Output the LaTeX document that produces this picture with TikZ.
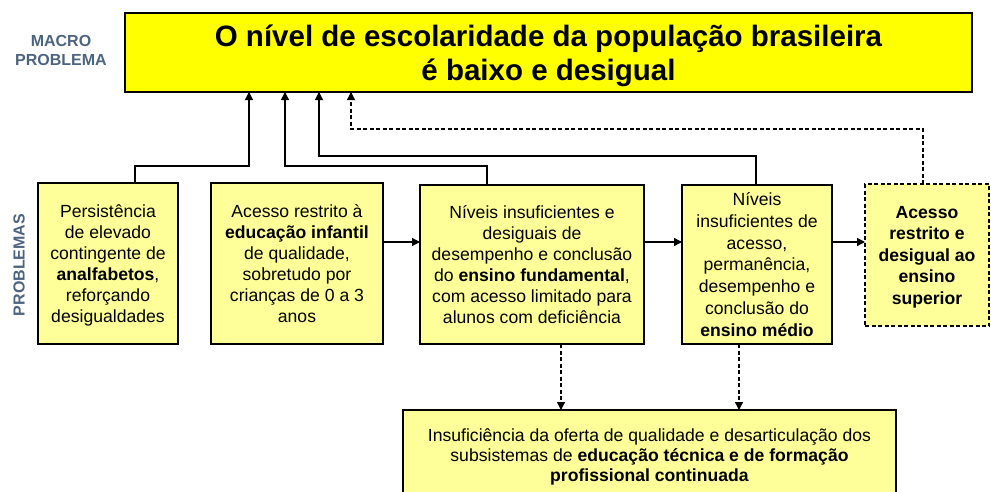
\documentclass[tikz,border=0pt]{standalone}
\usepackage{fontspec}
\setmainfont{Liberation Sans}
\usetikzlibrary{arrows.meta,calc}
\definecolor{ybright}{HTML}{FFFF00}
\definecolor{ylight}{HTML}{FFFF99}
\definecolor{lblue}{HTML}{4D6480}
\begin{document}
\begin{tikzpicture}[x=1pt,y=-1pt,
  box/.style={draw=black, line width=1.4pt, fill=ylight, align=center, inner sep=0pt, outer sep=0pt, text depth=-5pt, font=\fontsize{17.6}{21}\selectfont},
  dbox/.style={box, dash pattern=on 4pt off 2.5pt},
  conn/.style={line width=1.3pt, -{Triangle[length=8pt,width=8pt]}},
  dconn/.style={conn, dash pattern=on 4pt off 2.5pt},
  side/.style={text=lblue, font=\fontsize{16}{19}\selectfont\bfseries, align=center, inner sep=0pt}]
\useasboundingbox (0,0) rectangle (991,491);
\clip (0,0) rectangle (991,491);

% top problem
\node[box, fill=ybright, line width=1.6pt, minimum width=847pt, minimum height=79pt, text depth=-4pt,
      font=\fontsize{29.5}{34.5}\selectfont\bfseries] (top) at (548.5,52.5)
  {O nível de escolaridade da população brasileira\\é baixo e desigual};

\node[side] (macro) at (61,50) {MACRO\\PROBLEMA};
\node[side, rotate=90] (probl) at (19,265) {PROBLEMAS};

% problems
\node[box, minimum width=140pt, minimum height=161pt] (b1) at (108,263.5)
  {Persistência\\de elevado\\contingente de\\\textbf{analfabetos},\\reforçando\\desigualdades};
\node[box, minimum width=172pt, minimum height=161pt] (b2) at (297,263.5)
  {Acesso restrito à\\\textbf{educação infantil}\\de qualidade,\\sobretudo por\\crianças de 0 a 3\\anos};
\node[box, minimum width=224pt, minimum height=159pt] (b3) at (532,264.5)
  {Níveis insuficientes e\\desiguais de\\desempenho e conclusão\\do \textbf{ensino fundamental},\\com acesso limitado para\\alunos com deficiência};
\node[box, minimum width=150pt, minimum height=159pt, font=\fontsize{17.6}{21.8}\selectfont] (b4) at (757,264.5)
  {Níveis\\insuficientes de\\acesso,\\permanência,\\desempenho e\\conclusão do\\\textbf{ensino médio}};
\node[dbox, minimum width=124pt, minimum height=142pt, font=\fontsize{17.6}{21.5}\selectfont\bfseries] (b5) at (927,255)
  {Acesso\\restrito e\\desigual ao\\ensino\\superior};
\node[box, minimum width=493pt, minimum height=90pt, font=\fontsize{17.6}{20}\selectfont] (b6) at (649.5,455)
  {Insuficiência da oferta de qualidade e desarticulação dos\\subsistemas de \textbf{educação técnica e de formação}\\\textbf{profissional continuada}};

% connector helpers
\coordinate (t1) at ($(top.south west)+(124,0)$);
\coordinate (t2) at ($(top.south west)+(160,0)$);
\coordinate (t3) at ($(top.south west)+(194,0)$);
\coordinate (t4) at ($(top.south west)+(226,0)$);
\coordinate (r1) at (0,166);
\coordinate (r2) at (0,156);
\coordinate (r3) at (0,129);
\coordinate (ra) at (0,242);

\draw[conn] ($(b1.north west)+(97,0)$) |- (r1 -| t1) -- (t1);
\draw[conn] ($(b3.north west)+(67,0)$) |- (r1 -| t2) -- (t2);
\draw[conn] ($(b4.north west)+(74,0)$) |- (r2 -| t3) -- (t3);
\draw[dconn] ($(b5.north west)+(58,0)$) |- (r3 -| t4) -- (t4);

\draw[conn] (b2.east |- ra) -- (b3.west |- ra);
\draw[conn] (b3.east |- ra) -- (b4.west |- ra);
\draw[conn] (b4.east |- ra) -- (b5.west |- ra);

\coordinate (d1) at ($(b3.south west)+(141,0)$);
\coordinate (d2) at ($(b4.south west)+(57,0)$);
\draw[dconn] (d1) -- (d1 |- b6.north);
\draw[dconn] (d2) -- (d2 |- b6.north);
\end{tikzpicture}
\end{document}
